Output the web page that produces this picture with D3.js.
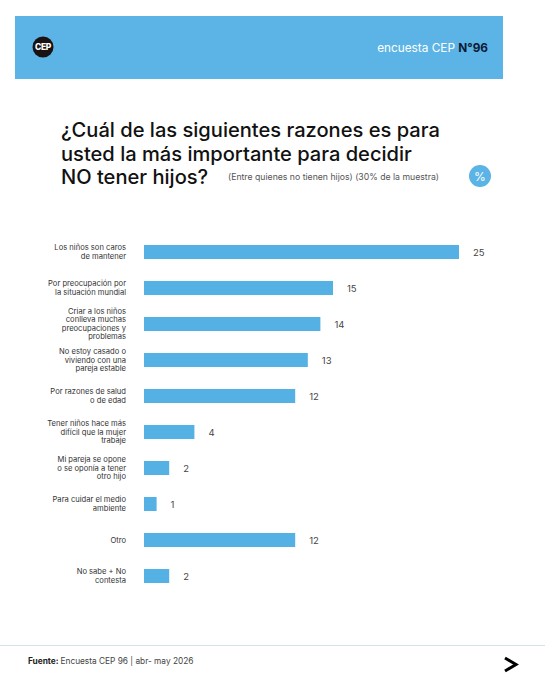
<!DOCTYPE html>
<html>
<head>
<meta charset="utf-8">
<script src="https://cdn.jsdelivr.net/npm/d3@7"></script>
<style>
  body { margin: 0; background: #fff; }
  svg { display: block; font-family: Inter, "Noto Sans", sans-serif; }
</style>
</head>
<body>
<div id="chart"></div>
<script>
// categorías (cada una partida en líneas) y valores en %
const categories = [
  ['Los niños son caros', 'de mantener'],
  ['Por preocupación por', 'la situación mundial'],
  ['Criar a los niños', 'conlleva muchas', 'preocupaciones y', 'problemas'],
  ['No estoy casado o', 'viviendo con una', 'pareja estable'],
  ['Por razones de salud', 'o de edad'],
  ['Tener niños hace más', 'difícil que la mujer', 'trabaje'],
  ['Mi pareja se opone', 'o se oponía a tener', 'otro hijo'],
  ['Para cuidar el medio', 'ambiente'],
  ['Otro'],
  ['No sabe + No', 'contesta']
];
const values = [25, 15, 14, 13, 12, 4, 2, 1, 12, 2];

const titleLines = [
  '¿Cuál de las siguientes razones es para',
  'usted la más importante para decidir',
  'NO tener hijos?'
];
const subtitle = '(Entre quienes no tienen hijos) (30% de la muestra)';

const width = 545, height = 680;
const blue = '#5bb4e5';
const barBlue = '#55b0e3';

const svg = d3.select('#chart').append('svg')
  .attr('width', width)
  .attr('height', height);

// cabecera
svg.append('rect')
  .attr('x', 15).attr('y', 16)
  .attr('width', 488).attr('height', 63)
  .attr('fill', blue);

svg.append('circle')
  .attr('cx', 43).attr('cy', 47).attr('r', 10.5)
  .attr('fill', '#1a1212');
svg.append('text')
  .attr('x', 43).attr('y', 50)
  .attr('text-anchor', 'middle')
  .attr('font-size', 8.5)
  .attr('font-weight', 800)
  .attr('fill', '#fff')
  .attr('letter-spacing', -0.3)
  .text('CEP');

const head = svg.append('text')
  .attr('x', 488).attr('y', 52)
  .attr('text-anchor', 'end')
  .attr('font-size', 11.8);
head.append('tspan').attr('fill', '#fff').text('encuesta CEP ');
head.append('tspan').attr('fill', '#0e1a36').attr('font-weight', 700).text('N°96');

// título
svg.append('g').selectAll('text')
  .data(titleLines)
  .join('text')
  .attr('x', 61)
  .attr('y', (d, i) => 137 + i * 23.5)
  .attr('font-size', 20.1)
  .attr('font-weight', 500)
  .attr('fill', '#111')
  .text(d => d);

svg.append('text')
  .attr('x', 228).attr('y', 180)
  .attr('font-size', 8.7)
  .attr('fill', '#555')
  .text(subtitle);

svg.append('circle')
  .attr('cx', 480).attr('cy', 176).attr('r', 11)
  .attr('fill', blue);
svg.append('text')
  .attr('x', 480).attr('y', 180.5)
  .attr('text-anchor', 'middle')
  .attr('font-size', 12)
  .attr('fill', '#fff')
  .text('%');

// escalas
const x = d3.scaleLinear().domain([0, 25]).range([144, 459]);
const y = d3.scaleBand()
  .domain(d3.range(categories.length))
  .range([234, 594])
  .paddingInner(0.61)
  .paddingOuter(0.305);

const rows = svg.append('g').selectAll('g')
  .data(values)
  .join('g');

rows.append('rect')
  .attr('x', x(0))
  .attr('y', (d, i) => y(i))
  .attr('width', d => x(d) - x(0))
  .attr('height', y.bandwidth())
  .attr('fill', barBlue);

rows.append('text')
  .attr('x', d => x(d) + 14)
  .attr('y', (d, i) => y(i) + y.bandwidth() / 2 + 3.5)
  .attr('font-size', 9.5)
  .attr('fill', '#444')
  .text(d => d);

// etiquetas de categoría
rows.append('text')
  .attr('text-anchor', 'end')
  .attr('font-size', 7.6)
  .attr('fill', '#333')
  .each(function (d, i) {
    const lines = categories[i];
    const lh = 8.4;
    const cy = y(i) + y.bandwidth() / 2;
    const top = cy - (lines.length - 1) * lh / 2 + 2.6;
    d3.select(this).selectAll('tspan')
      .data(lines)
      .join('tspan')
      .attr('x', 126)
      .attr('y', (l, j) => top + j * lh)
      .text(l => l);
  });

// pie
svg.append('line')
  .attr('x1', 0).attr('x2', width)
  .attr('y1', 645.5).attr('y2', 645.5)
  .attr('stroke', '#d6e4ea')
  .attr('stroke-width', 1.2);

const foot = svg.append('text')
  .attr('x', 28).attr('y', 664)
  .attr('font-size', 8.3)
  .attr('fill', '#222');
foot.append('tspan').attr('font-weight', 700).text('Fuente: ');
foot.append('tspan').attr('fill', '#444').text('Encuesta CEP 96 | abr- may 2026');

svg.append('path')
  .attr('d', 'M505,658 L516,664.5 L505,671')
  .attr('fill', 'none')
  .attr('stroke', '#000')
  .attr('stroke-width', 3)
  .attr('stroke-linejoin', 'miter');
</script>
</body>
</html>
